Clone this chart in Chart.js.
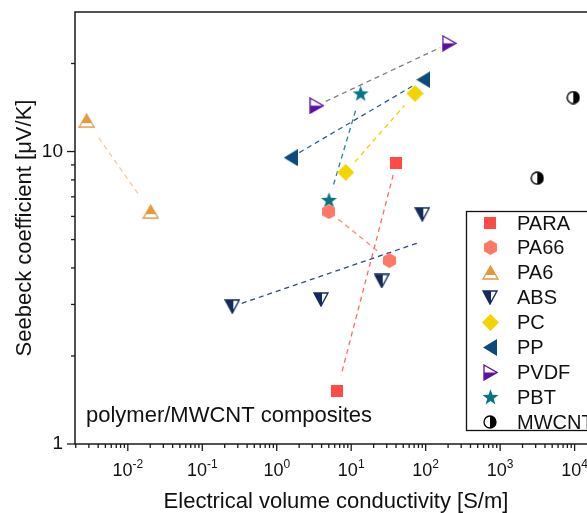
<!DOCTYPE html>
<html>
<head>
<meta charset="utf-8">
<script src="https://cdn.jsdelivr.net/npm/chart.js@4.4.0/dist/chart.umd.min.js"></script>
<style>
  html, body { margin: 0; padding: 0; background: #fff; overflow: hidden; }
  #wrap { width: 630px; height: 513px; }
</style>
</head>
<body>
<div id="wrap"><canvas id="chart" width="630" height="513"></canvas></div>
<script>
// Datos: conductividad [S/m] y Seebeck [uV/K]
const paraX = [40.3, 6.45];
const paraY = [9.12, 1.52];
const pa66X = [5.03, 32.5];
const pa66Y = [6.23, 4.24];
const pa6X = [0.0028, 0.0203];
const pa6Y = [12.75, 6.23];
const absX = [0.253, 3.93, 25.7, 90.1];
const absY = [2.95, 3.12, 3.61, 6.10];
const absLineX = [0.253, 82.1];
const absLineY = [2.95, 4.89];
const pcX = [8.44, 71.9];
const pcY = [8.49, 15.8];
const ppX = [1.54, 92.9];
const ppY = [9.53, 17.6];
const pvdfX = [3.44, 207.7];
const pvdfY = [14.35, 23.45];
const pbtX = [13.4, 5.03];
const pbtY = [15.8, 6.83];
const mwcntX = [9600, 3155];
const mwcntY = [15.3, 8.11];

const xTickExps = [-2, -1, 0, 1, 2, 3, 4];
const yTickLabels = [1, 10];
const xTitle = 'Electrical volume conductivity [S/m]';
const yTitle = 'Seebeck coefficient [\u03bcV/K]';
const note = 'polymer/MWCNT composites';

const FONT = 'Arial, "Liberation Sans", sans-serif';

function pts(xs, ys) {
  return xs.map((x, i) => ({ x: x, y: ys[i] }));
}

// Marcadores
function marker(w, h, draw) {
  const c = document.createElement('canvas');
  c.width = w; c.height = h;
  const g = c.getContext('2d');
  draw(g, w, h);
  return c;
}

function poly(g, p) {
  g.beginPath();
  g.moveTo(p[0][0], p[0][1]);
  for (let i = 1; i < p.length; i++) g.lineTo(p[i][0], p[i][1]);
  g.closePath();
}

const mkPara = marker(12, 12, (g, w, h) => {
  g.fillStyle = '#ff4b45';
  g.fillRect(0, 0, w, h);
});

const mkPa66 = marker(13, 15, (g, w, h) => {
  poly(g, [[w / 2, 0], [w, h * 0.25], [w, h * 0.75], [w / 2, h], [0, h * 0.75], [0, h * 0.25]]);
  g.fillStyle = '#ff7866';
  g.fill();
});

const mkPa6 = marker(17, 15, (g, w, h) => {
  const p = [[w / 2, 1], [w - 1, h - 1], [1, h - 1]];
  g.fillStyle = '#fff';
  poly(g, p); g.fill();
  g.save();
  g.beginPath(); g.rect(0, 0, w, h * 0.66); g.clip();
  g.fillStyle = '#e4983c';
  poly(g, p); g.fill();
  g.restore();
  g.strokeStyle = '#e4983c'; g.lineWidth = 1.3;
  poly(g, p); g.stroke();
});

const mkAbs = marker(16, 15, (g, w, h) => {
  const p = [[1, 1], [w - 1, 1], [w / 2, h - 1]];
  g.fillStyle = '#fff';
  poly(g, p); g.fill();
  g.save();
  g.beginPath(); g.rect(0, 0, w * 0.56, h); g.clip();
  g.fillStyle = '#142a5e';
  poly(g, p); g.fill();
  g.restore();
  g.strokeStyle = '#142a5e'; g.lineWidth = 1.4;
  poly(g, p); g.stroke();
});

const mkPc = marker(17, 17, (g, w, h) => {
  poly(g, [[w / 2, 0], [w, h / 2], [w / 2, h], [0, h / 2]]);
  g.fillStyle = '#f2d500';
  g.fill();
});

const mkPp = marker(14, 17, (g, w, h) => {
  poly(g, [[0, h / 2], [w, 0], [w, h]]);
  g.fillStyle = '#0c4a7a';
  g.fill();
});

const mkPvdf = marker(15, 17, (g, w, h) => {
  const p = [[1, 1], [w - 1, h / 2], [1, h - 1]];
  g.fillStyle = '#fff';
  poly(g, p); g.fill();
  g.save();
  g.beginPath(); g.rect(0, h / 2, w, h / 2); g.clip();
  g.fillStyle = '#5a10a2';
  poly(g, p); g.fill();
  g.restore();
  g.strokeStyle = '#5a10a2'; g.lineWidth = 1.3;
  poly(g, p); g.stroke();
});

const mkPbt = marker(17, 16, (g, w, h) => {
  const cx = w / 2, cy = 8.6, ro = 8.4, ri = 3.4;
  const p = [];
  for (let i = 0; i < 10; i++) {
    const a = -Math.PI / 2 + i * Math.PI / 5;
    const r = i % 2 === 0 ? ro : ri;
    p.push([cx + r * Math.cos(a), cy + r * Math.sin(a)]);
  }
  poly(g, p);
  g.fillStyle = '#0a7385';
  g.fill();
});

const mkMwcnt = marker(14, 14, (g, w, h) => {
  const r = 6;
  g.fillStyle = '#fff';
  g.beginPath(); g.arc(w / 2, h / 2, r, 0, Math.PI * 2); g.fill();
  g.fillStyle = '#000';
  g.beginPath(); g.arc(w / 2, h / 2, r, -Math.PI / 2, Math.PI / 2); g.closePath(); g.fill();
  g.strokeStyle = '#000'; g.lineWidth = 1.3;
  g.beginPath(); g.arc(w / 2, h / 2, r, 0, Math.PI * 2); g.stroke();
});

function series(label, xs, ys, style, lineColor, gap) {
  return {
    label: label,
    data: pts(xs, ys),
    pointStyle: style,
    pointRadius: 7,
    showLine: false,
    dashColor: lineColor,
    dashGap: gap,
    inLegend: true
  };
}

const datasets = [
  {
    label: 'ABS line',
    data: pts(absLineX, absLineY),
    pointRadius: 0,
    showLine: false,
    dashColor: '#2b4a80',
    dashGap: [10, 0],
    inLegend: false
  },
  series('PARA', paraX, paraY, mkPara, '#ff6a62', [12, 16]),
  series('PA66', pa66X, pa66Y, mkPa66, '#ff8a78', [12, 12]),
  series('PA6', pa6X, pa6Y, mkPa6, '#f6c9a0', [21, 21]),
  series('ABS', absX, absY, mkAbs, null, null),
  series('PC', pcX, pcY, mkPc, '#f2d500', [14, 16]),
  series('PP', ppX, ppY, mkPp, '#2a5f8e', [10, 10]),
  series('PVDF', pvdfX, pvdfY, mkPvdf, '#7d7a92', [10, 10]),
  series('PBT', pbtX, pbtY, mkPbt, '#2a8394', [18, 12]),
  series('MWCNT', mwcntX, mwcntY, mkMwcnt, null, null)
];

// Lineas discontinuas con hueco junto a los marcadores
const dashLines = {
  id: 'dashLines',
  beforeDatasetsDraw(chart) {
    const ctx = chart.ctx;
    chart.data.datasets.forEach((ds, i) => {
      if (!ds.dashColor) return;
      const els = chart.getDatasetMeta(i).data;
      for (let k = 0; k < els.length - 1; k++) {
        const a = els[k], b = els[k + 1];
        const dx = b.x - a.x, dy = b.y - a.y;
        const len = Math.sqrt(dx * dx + dy * dy);
        const ux = dx / len, uy = dy / len;
        ctx.save();
        ctx.strokeStyle = ds.dashColor;
        ctx.lineWidth = 1.3;
        ctx.setLineDash([5, 4]);
        ctx.beginPath();
        ctx.moveTo(a.x + ux * ds.dashGap[0], a.y + uy * ds.dashGap[0]);
        ctx.lineTo(b.x - ux * ds.dashGap[1], b.y - uy * ds.dashGap[1]);
        ctx.stroke();
        ctx.restore();
      }
    });
  }
};

// Ejes, ticks, titulos y leyenda
const frame = {
  id: 'frame',
  afterDraw(chart) {
    const ctx = chart.ctx;
    const area = chart.chartArea;
    const xs = chart.scales.x, ys = chart.scales.y;
    ctx.save();
    ctx.strokeStyle = '#1a1a1a';
    ctx.lineWidth = 1.5;
    ctx.strokeRect(area.left, area.top, area.right - area.left, area.bottom - area.top);

    ctx.lineWidth = 1.3;
    for (let e = -3; e <= 4; e++) {
      for (let m = 1; m <= 9; m++) {
        const v = m * Math.pow(10, e);
        if (v < xs.min || v > xs.max) continue;
        const px = xs.getPixelForValue(v);
        const len = m === 1 ? 7 : 4;
        ctx.beginPath();
        ctx.moveTo(px, area.bottom);
        ctx.lineTo(px, area.bottom + len);
        ctx.stroke();
      }
    }
    for (let e = 0; e <= 1; e++) {
      for (let m = 1; m <= 9; m++) {
        const v = m * Math.pow(10, e);
        if (v < ys.min || v >= ys.max) continue;
        const py = ys.getPixelForValue(v);
        const len = m === 1 ? 8 : 4;
        ctx.beginPath();
        ctx.moveTo(area.left, py);
        ctx.lineTo(area.left - len, py);
        ctx.stroke();
      }
    }

    ctx.fillStyle = '#111';
    ctx.textBaseline = 'alphabetic';
    xTickExps.forEach(e => {
      const px = xs.getPixelForValue(Math.pow(10, e));
      const base = '10', sup = String(e);
      ctx.font = '18px ' + FONT;
      const w1 = ctx.measureText(base).width;
      ctx.font = '12px ' + FONT;
      const w2 = ctx.measureText(sup).width;
      const x0 = px - (w1 + w2) / 2;
      ctx.font = '18px ' + FONT;
      ctx.textAlign = 'left';
      ctx.fillText(base, x0, area.bottom + 32);
      ctx.font = '12px ' + FONT;
      ctx.fillText(sup, x0 + w1, area.bottom + 24);
    });

    ctx.font = '19px ' + FONT;
    ctx.textAlign = 'right';
    ctx.textBaseline = 'middle';
    yTickLabels.forEach(v => {
      ctx.fillText(String(v), area.left - 12, ys.getPixelForValue(v));
    });

    ctx.font = '22px ' + FONT;
    ctx.textAlign = 'center';
    ctx.textBaseline = 'alphabetic';
    ctx.fillText(xTitle, 336, 508);
    ctx.save();
    ctx.translate(31, 228);
    ctx.rotate(-Math.PI / 2);
    ctx.fillText(yTitle, 0, 0);
    ctx.restore();

    ctx.font = '22px ' + FONT;
    ctx.textAlign = 'left';
    ctx.fillText(note, 86, 422);

    // leyenda
    const items = chart.data.datasets.filter(d => d.inLegend);
    const lx = 466.5, ly = 211.5;
    ctx.fillStyle = '#fff';
    ctx.fillRect(lx, ly, 160, 219);
    ctx.strokeStyle = '#111';
    ctx.lineWidth = 1.3;
    ctx.strokeRect(lx, ly, 160, 219);
    ctx.font = '20px ' + FONT;
    ctx.textBaseline = 'middle';
    ctx.fillStyle = '#111';
    items.forEach((d, i) => {
      const cy = 223 + i * 24.9;
      const img = d.pointStyle;
      ctx.drawImage(img, Math.round(490 - img.width / 2), Math.round(cy - img.height / 2));
      ctx.fillText(d.label, 517, cy + 1);
    });
    ctx.restore();
  }
};

new Chart(document.getElementById('chart'), {
  type: 'scatter',
  data: { datasets: datasets },
  options: {
    responsive: false,
    animation: false,
    layout: { padding: { left: 75, top: 12, right: 10, bottom: 69 } },
    plugins: {
      legend: { display: false },
      tooltip: { enabled: false }
    },
    scales: {
      x: { type: 'logarithmic', min: 0.001954, max: 40700, display: false },
      y: { type: 'logarithmic', min: 1, max: 30, display: false }
    }
  },
  plugins: [dashLines, frame]
});
</script>
</body>
</html>
